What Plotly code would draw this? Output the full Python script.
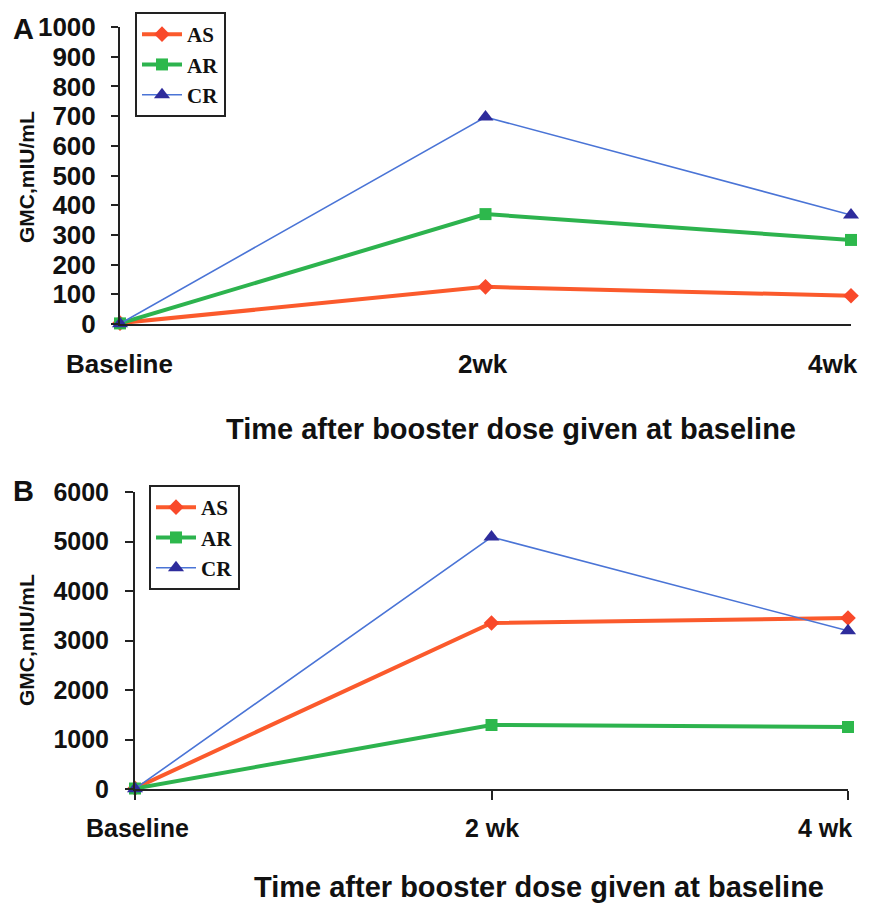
import plotly.graph_objects as go

# page body has an 8px margin, so the figure starts at (8, 8) in the window
OFF = 8
W, H = 871 - OFF, 907 - OFF

# ---- data ----
cats_a = ["Baseline", "2wk", "4wk"]
cats_b = ["Baseline", "2 wk", "4 wk"]
series = ["AS", "AR", "CR"]
a_AS = [3, 125, 95]
a_AR = [2, 370, 283]
a_CR = [1, 697, 367]
b_AS = [15, 3355, 3455]
b_AR = [10, 1293, 1253]
b_CR = [5, 5090, 3195]
yticks_a = list(range(0, 1001, 100))
yticks_b = list(range(0, 6001, 1000))

# horizontal nudges of the category labels (the last one sits inside the frame)
label_shift_a = [0, -3, -18]
label_shift_b = [2, 0, -23]

col = {"AS": "#FB5A2C", "AR": "#2DB34E", "CR": "#4A74D6"}
mcol = {"AS": "#F9492A", "AR": "#2DB84C", "CR": "#2E2C9C"}
sym = {"AS": "diamond", "AR": "square", "CR": "triangle-up"}
msize = {"AS": 12, "AR": 12, "CR": 14}
lw = {"AS": 4, "AR": 4, "CR": 1.6}

SANS = "Liberation Sans, Arial, sans-serif"
SERIF = "Liberation Serif, Times New Roman, serif"

fig = go.Figure()

def px_x(p):
    return (p - OFF) / W

def px_y(p):
    return 1 - (p - OFF) / H

data_a = {"AS": a_AS, "AR": a_AR, "CR": a_CR}
data_b = {"AS": b_AS, "AR": b_AR, "CR": b_CR}

for s in series:
    fig.add_trace(go.Scatter(
        x=cats_a, y=data_a[s], name=s, mode="lines+markers",
        line=dict(color=col[s], width=lw[s]),
        marker=dict(symbol=sym[s], size=msize[s], color=mcol[s]),
        xaxis="x", yaxis="y", legend="legend", cliponaxis=False))
for s in series:
    fig.add_trace(go.Scatter(
        x=cats_b, y=data_b[s], name=s, mode="lines+markers",
        line=dict(color=col[s], width=lw[s]),
        marker=dict(symbol=sym[s], size=msize[s], color=mcol[s]),
        xaxis="x2", yaxis="y2", legend="legend2", cliponaxis=False))

tf_a = dict(family=SANS, size=26, color="#111", weight="bold")
tf_b = dict(family=SANS, size=25, color="#111", weight="bold")

common = dict(automargin=False, showgrid=False, zeroline=False,
              showline=True, linecolor="#222", linewidth=2)

legfont = dict(family=SERIF, size=21, color="#111", weight="bold")

fig.update_layout(
    width=W, height=H,
    margin=dict(l=0, r=0, t=0, b=0, autoexpand=False),
    paper_bgcolor="white", plot_bgcolor="white",
    xaxis=dict(domain=[px_x(120), px_x(851)], anchor="y", type="category",
               categoryorder="array", categoryarray=cats_a, range=[0, 2],
               showticklabels=False, ticks="", **common),
    yaxis=dict(domain=[px_y(324), px_y(27)], anchor="x", range=[0, 1000],
               tickvals=yticks_a, ticks="outside", ticklen=7, tickwidth=2,
               tickcolor="#222", ticklabelstandoff=10, tickfont=tf_a, **common),
    xaxis2=dict(domain=[px_x(135), px_x(848)], anchor="y2", type="category",
                categoryorder="array", categoryarray=cats_b, range=[0, 2],
                showticklabels=False, ticks="outside", ticklen=9, tickwidth=2,
                tickcolor="#222", **common),
    yaxis2=dict(domain=[px_y(789), px_y(492)], anchor="x2", range=[0, 6000],
                tickvals=yticks_b, ticks="outside", ticklen=8, tickwidth=2,
                tickcolor="#222", ticklabelstandoff=11, tickfont=tf_b, **common),
    legend=dict(x=px_x(135), y=px_y(12), xanchor="left", yanchor="top",
                bordercolor="#222", borderwidth=2, bgcolor="white",
                font=legfont, tracegroupgap=0, itemwidth=40),
    legend2=dict(x=px_x(149), y=px_y(485), xanchor="left", yanchor="top",
                 bordercolor="#222", borderwidth=2, bgcolor="white",
                 font=legfont, tracegroupgap=0, itemwidth=40),
    showlegend=True,
)

ann_font_title = dict(family=SANS, size=29, color="#111", weight="bold")
ann_font_y = dict(family=SANS, size=21, color="#111", weight="bold")
ann_font_panel = dict(family=SANS, size=29, color="#111", weight="bold")

annotations = [
    dict(text="A", x=px_x(11), y=px_y(29), xanchor="left", yanchor="middle",
         font=ann_font_panel),
    dict(text="B", x=px_x(11), y=px_y(491), xanchor="left", yanchor="middle",
         font=ann_font_panel),
    dict(text="Time after booster dose given at baseline", x=px_x(511),
         y=px_y(429), xanchor="center", yanchor="middle", font=ann_font_title),
    dict(text="Time after booster dose given at baseline", x=px_x(539),
         y=px_y(887), xanchor="center", yanchor="middle", font=ann_font_title),
    dict(text="GMC,mIU/mL", x=px_x(26), y=px_y(177), xanchor="center",
         yanchor="middle", textangle=-90, font=ann_font_y),
    dict(text="GMC,mIU/mL", x=px_x(26), y=px_y(640), xanchor="center",
         yanchor="middle", textangle=-90, font=ann_font_y),
]
for a in annotations:
    a.update(xref="paper", yref="paper", showarrow=False)

# category labels placed through the category axes
for c, sh in zip(cats_a, label_shift_a):
    annotations.append(dict(text=c, x=c, xref="x", y=px_y(364), yref="paper",
                            xanchor="center", yanchor="middle", xshift=sh,
                            showarrow=False, font=tf_a))
for c, sh in zip(cats_b, label_shift_b):
    annotations.append(dict(text=c, x=c, xref="x2", y=px_y(828), yref="paper",
                            xanchor="center", yanchor="middle", xshift=sh,
                            showarrow=False, font=tf_b))
fig.update_layout(annotations=annotations)

fig.write_html("out.html")
